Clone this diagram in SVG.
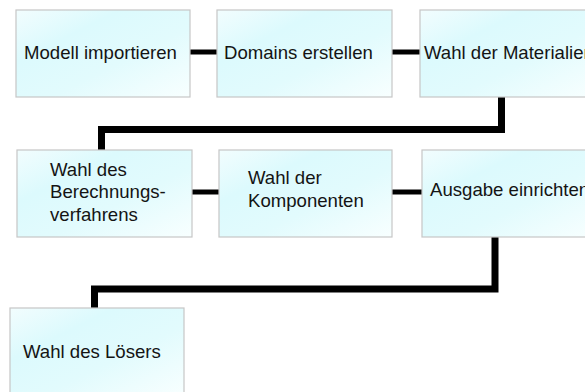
<svg xmlns="http://www.w3.org/2000/svg" width="585" height="392" viewBox="0 0 585 392">
<defs>
<linearGradient id="g" x1="0" y1="0" x2="1" y2="1">
<stop offset="0" stop-color="#f2fdfe"/>
<stop offset="0.3" stop-color="#dcfafd"/>
<stop offset="0.6" stop-color="#e2fbfd"/>
<stop offset="1" stop-color="#f8ffff"/>
</linearGradient>
<style>
.box{fill:url(#g);stroke:#c6c6c6;stroke-width:1.2}
.t{font-family:"Liberation Sans",Arial,sans-serif;font-size:18.6px;fill:#141414}
.c{fill:none;stroke:#000;stroke-linejoin:miter}
.s{stroke-width:5}
.l{stroke-width:7}
</style>
</defs>
<rect width="585" height="392" fill="#fff"/>
<g id="connectors">
<line class="c s" x1="190" y1="52" x2="217" y2="52"/>
<line class="c s" x1="392" y1="52" x2="420" y2="52"/>
<polyline class="c l" points="501.5,97 501.5,129.5 101.5,129.5 101.5,150"/>
<line class="c s" x1="192" y1="192" x2="219" y2="192"/>
<line class="c s" x1="392" y1="192" x2="422" y2="192"/>
<polyline class="c l" points="495,237 495,289 94.5,289 94.5,308"/>
</g>
<g id="n1"><rect class="box" x="16" y="10" width="174" height="87"/><text class="t" x="24" y="59">Modell importieren</text></g>
<g id="n2"><rect class="box" x="217" y="10" width="175" height="87"/><text class="t" x="224" y="59">Domains erstellen</text></g>
<g id="n3"><rect class="box" x="420" y="10" width="174" height="87"/><text class="t" x="424" y="58.5">Wahl der Materialien</text></g>
<g id="n4"><rect class="box" x="17" y="150" width="175" height="87"/><text class="t" x="50" y="175.5">Wahl des<tspan x="50" y="198">Berechnungs-</tspan><tspan x="50" y="220.5">verfahrens</tspan></text></g>
<g id="n5"><rect class="box" x="219" y="150" width="173" height="87"/><text class="t" x="248" y="184.3">Wahl der<tspan x="248" y="206.7">Komponenten</tspan></text></g>
<g id="n6"><rect class="box" x="422" y="150" width="174" height="87"/><text class="t" x="430" y="196">Ausgabe einrichten</text></g>
<g id="n7"><rect class="box" x="10" y="308" width="174" height="87"/><text class="t" x="23" y="357.5">Wahl des Lösers</text></g>
</svg>
